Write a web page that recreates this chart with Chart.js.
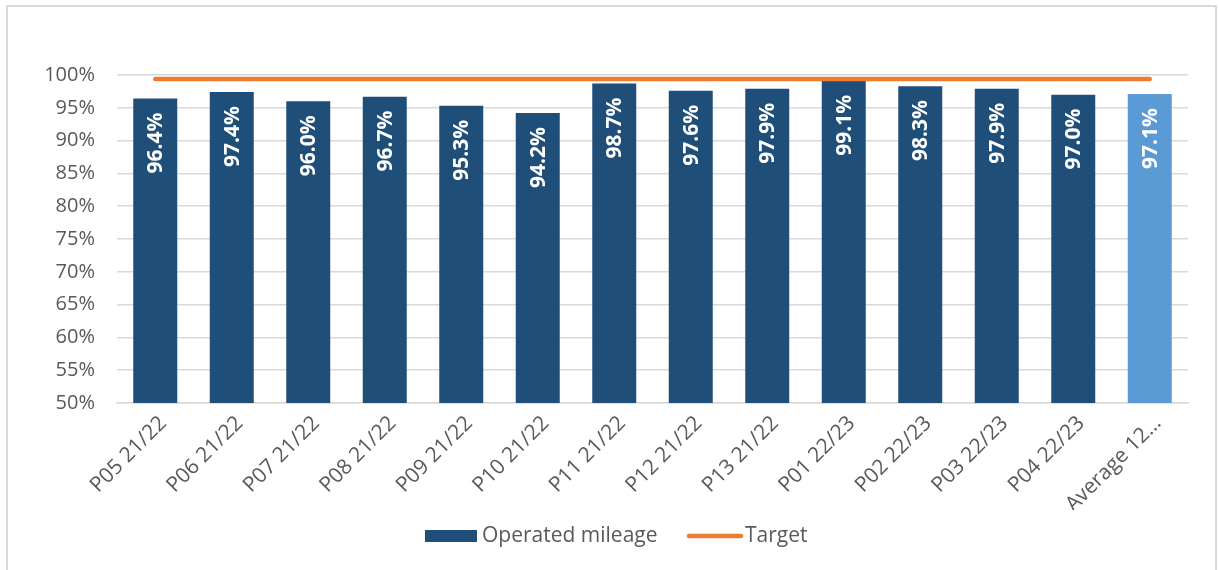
<!DOCTYPE html>
<html>
<head>
<meta charset="utf-8">
<script src="https://cdn.jsdelivr.net/npm/chart.js@4"></script>
<style>
  html, body { margin: 0; padding: 0; background: #fff; overflow: hidden; }
  #frame { position: absolute; left: 6px; top: 5px; width: 1207px; height: 600px; border: 2px solid #d9d9d9; }
  #wrap { position: absolute; left: 0; top: 0; width: 1219px; height: 570px; }
</style>
</head>
<body>
<div id="frame"></div>
<div id="wrap"><canvas id="mileageChart" width="1219" height="570"></canvas></div>
<script>
// Datos del gráfico
const periods = ["P05 21/22", "P06 21/22", "P07 21/22", "P08 21/22", "P09 21/22", "P10 21/22",
    "P11 21/22", "P12 21/22", "P13 21/22", "P01 22/23", "P02 22/23", "P03 22/23", "P04 22/23", "Average 12\u2026"];
const operated = [96.4, 97.4, 96.0, 96.7, 95.3, 94.2, 98.7, 97.6, 97.9, 99.1, 98.3, 97.9, 97.0, 97.1];
const target = [99.4, 99.4, 99.4, 99.4, 99.4, 99.4, 99.4, 99.4, 99.4, 99.4, 99.4, 99.4, 99.4, 99.4];
const yTicks = [50, 55, 60, 65, 70, 75, 80, 85, 90, 95, 100];

const darkBlue = "#1f4e79";
const lightBlue = "#5b9bd5";
const orange = "#ed7d31";
const textGrey = "#595959";
const fontFamily = "'Open Sans', 'Liberation Sans', sans-serif";

// Etiquetas blancas giradas dentro de las barras
const barLabels = {
    id: "barLabels",
    afterDatasetsDraw(chart) {
        const ctx = chart.ctx;
        const meta = chart.getDatasetMeta(1); // dataset de barras
        ctx.save();
        ctx.fillStyle = "#ffffff";
        ctx.font = "bold 21px " + fontFamily;
        ctx.textAlign = "right";
        ctx.textBaseline = "middle";
        meta.data.forEach((bar, i) => {
            ctx.save();
            ctx.translate(bar.x, bar.y + 14);
            ctx.rotate(-Math.PI / 2);
            ctx.fillText(operated[i].toFixed(1) + "%", 0, 1);
            ctx.restore();
        });
        ctx.restore();
    }
};

// Leyenda dibujada a mano (caja + línea)
const customLegend = {
    id: "customLegend",
    afterDraw(chart) {
        const ctx = chart.ctx;
        const y = 536;
        ctx.save();
        ctx.font = "21px " + fontFamily;
        ctx.textBaseline = "middle";
        ctx.textAlign = "left";
        ctx.fillStyle = darkBlue;
        ctx.fillRect(425, y - 6, 52, 12);
        ctx.fillStyle = textGrey;
        ctx.fillText("Operated mileage", 482, y);
        ctx.strokeStyle = orange;
        ctx.lineWidth = 4.5;
        ctx.lineCap = "round";
        ctx.beginPath();
        ctx.moveTo(689, y);
        ctx.lineTo(741, y);
        ctx.stroke();
        ctx.fillText("Target", 745, y);
        ctx.restore();
    }
};

const ctx = document.getElementById("mileageChart").getContext("2d");
const mileageChart = new Chart(ctx, {
    type: "bar",
    data: {
        labels: periods,
        datasets: [{
            type: "line",
            label: "Target",
            data: target,
            borderColor: orange,
            backgroundColor: orange,
            borderWidth: 4.5,
            borderCapStyle: "round",
            pointRadius: 0,
            order: 1
        }, {
            label: "Operated mileage",
            data: operated,
            backgroundColor: operated.map((v, i) => i === operated.length - 1 ? lightBlue : darkBlue),
            barPercentage: 0.575,
            categoryPercentage: 1,
            order: 2
        }]
    },
    options: {
        responsive: false,
        animation: false,
        layout: { padding: { top: 75, right: 31, bottom: 60, left: 0 } },
        plugins: {
            legend: { display: false },
            tooltip: { enabled: false }
        },
        scales: {
            x: {
                grid: { display: false, drawTicks: false },
                border: { color: "#d9d9d9", width: 1.5 },
                ticks: {
                    color: textGrey,
                    font: { size: 21, family: fontFamily },
                    minRotation: 45,
                    maxRotation: 45,
                    padding: 8,
                    labelOffset: 8,
                    autoSkip: false
                },
                afterFit(scale) { scale.height = 107; }
            },
            y: {
                min: 50,
                max: 100,
                afterBuildTicks(scale) { scale.ticks = yTicks.map(v => ({ value: v })); },
                grid: { color: "#d9d9d9", lineWidth: 1.5, drawTicks: false },
                border: { display: false },
                ticks: {
                    color: textGrey,
                    font: { size: 20, family: fontFamily },
                    padding: 22,
                    callback: v => v + "%"
                },
                afterFit(scale) { scale.width = 117; }
            }
        }
    },
    plugins: [barLabels, customLegend]
});
</script>
</body>
</html>
